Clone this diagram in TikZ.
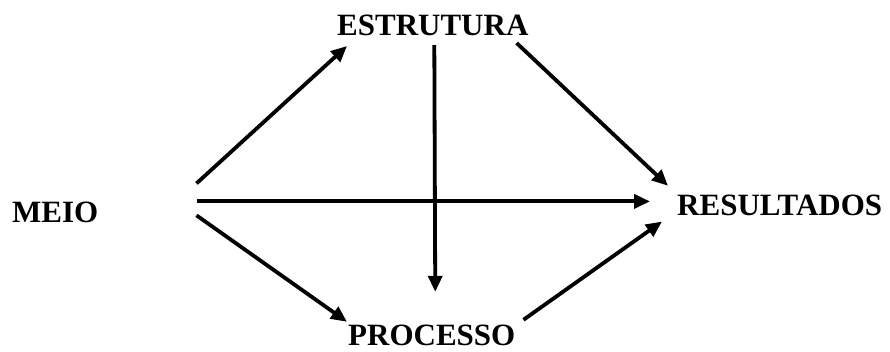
\documentclass[tikz,border=0pt]{standalone}
\usepackage{fontspec}
\setmainfont{Liberation Serif}
\usetikzlibrary{arrows.meta}

\begin{document}
\begin{tikzpicture}[x=1pt,y=-1pt,
                   label/.style={inner sep=0pt,anchor=base west,font=\fontsize{31}{31}\selectfont\bfseries},
                   arr/.style={line width=3.8pt,-{Triangle[length=16pt,width=14pt]}}]
\useasboundingbox (0,0) rectangle (890,351);
\node[label] (estrutura) at (337,35.5) {ESTRUTURA};
\node[label] (meio) at (12,222.5) {MEIO};
\node[label] (resultados) at (677,215.5) {RESULTADOS};
\node[label] (processo) at (348,345) {PROCESSO};

\draw[arr] ([xshift=98pt,yshift=29pt]meio.east) -- ([xshift=10pt,yshift=-10pt]estrutura.south west);
\draw[arr] ([xshift=98pt,yshift=11pt]meio.east) -- ([xshift=-27pt,yshift=4pt]resultados.west);
\draw[arr] ([xshift=98pt,yshift=-3pt]meio.east) -- ([xshift=-1pt,yshift=2.5pt]processo.north west);
\draw[arr] ([xshift=-12pt,yshift=-7pt]estrutura.south east) -- ([xshift=-9pt,yshift=9pt]resultados.north west);
\draw[arr] ([xshift=1.5pt,yshift=-9pt]estrutura.south) -- ([xshift=3.5pt,yshift=32.5pt]processo.north);
\draw[arr] ([xshift=8pt,yshift=4.5pt]processo.north east) -- ([xshift=-15pt,yshift=-5.5pt]resultados.south west);
\end{tikzpicture}
\end{document}
